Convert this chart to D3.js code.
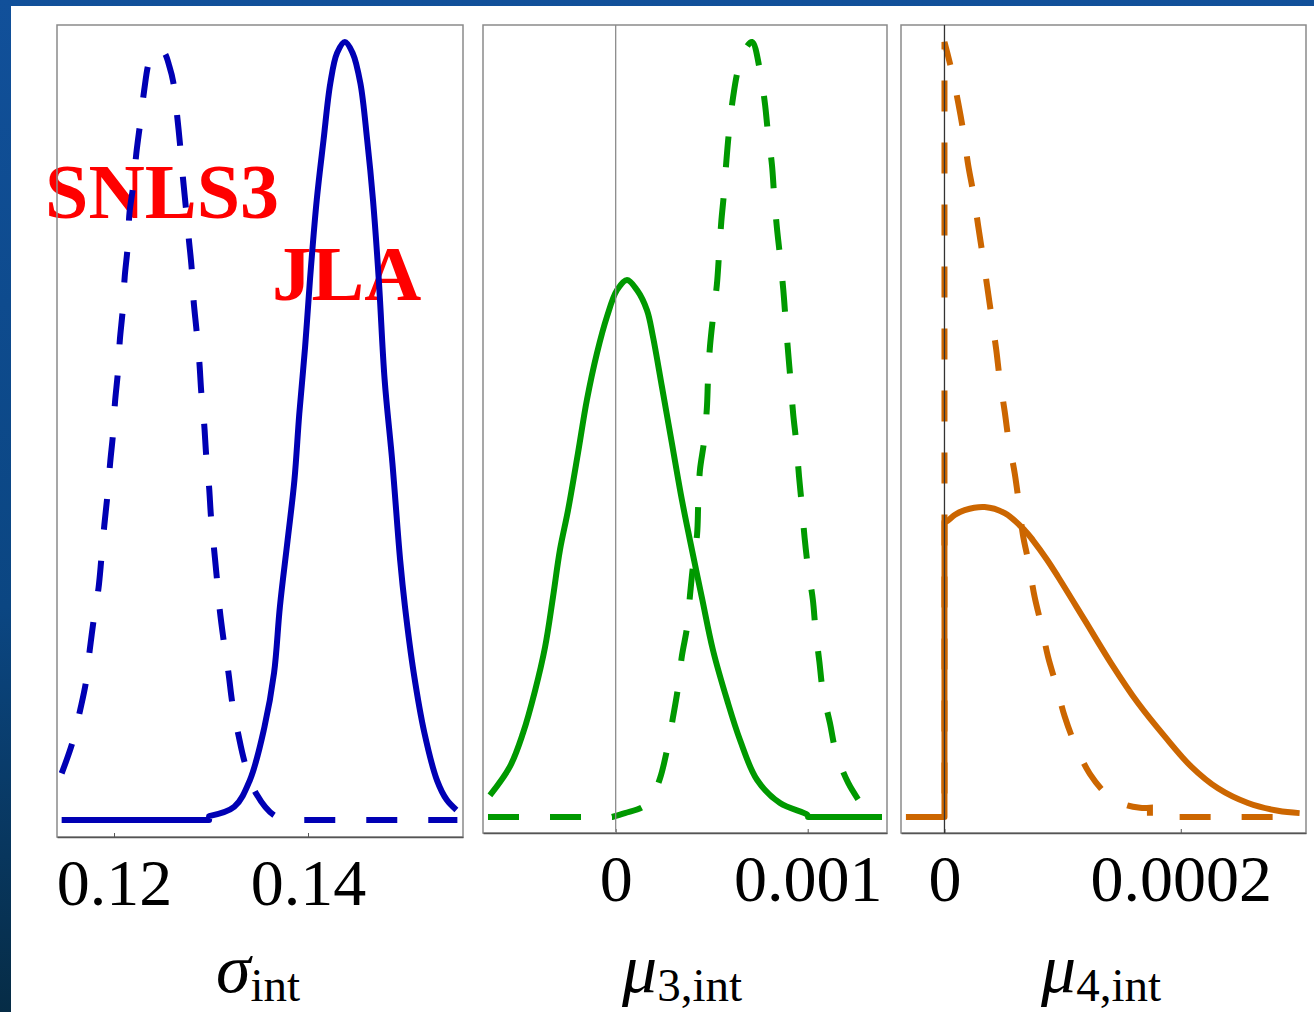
<!DOCTYPE html>
<html>
<head>
<meta charset="utf-8">
<script src="https://cdn.jsdelivr.net/npm/d3@7"></script>
<style>
body { margin: 0; background: #fff; }
text { font-family: "Liberation Serif", "Times New Roman", serif; }
</style>
</head>
<body>
<div id="chart"></div>
<script>
var width = 1314,
    height = 1012;

// marginal posteriors, [value, relative density]
var sigmaJLA = [[0.1146,0],[0.1298,0],[0.1298,0.005],[0.1324,0.017],[0.1340,0.051],[0.1355,0.119],[0.1365,0.189],
  [0.1371,0.274],[0.1379,0.360],[0.1386,0.437],[0.1391,0.522],[0.1397,0.608],[0.1402,0.694],[0.1409,0.797],
  [0.1416,0.874],[0.1423,0.947],[0.1430,0.986],[0.1438,1.0],[0.1446,0.986],[0.1454,0.947],[0.1461,0.874],
  [0.1467,0.797],[0.1473,0.694],[0.1479,0.566],[0.1487,0.459],[0.1495,0.334],[0.1500,0.274],[0.1509,0.189],
  [0.1520,0.112],[0.1533,0.051],[0.1543,0.026],[0.1553,0.013]];

var sigmaSNLS3 = [[0.1146,0.060],[0.1157,0.099],[0.1165,0.141],[0.1171,0.177],[0.1175,0.219],[0.1179,0.257],
  [0.1184,0.298],[0.1187,0.337],[0.1190,0.379],[0.1193,0.415],[0.1196,0.459],[0.1199,0.497],[0.1201,0.537],
  [0.1204,0.576],[0.1206,0.617],[0.1209,0.656],[0.1211,0.698],[0.1214,0.736],[0.1216,0.781],[0.1220,0.817],
  [0.1223,0.857],[0.1227,0.896],[0.1231,0.937],[0.1236,0.974],[0.1241,0.987],[0.1246,0.991],[0.1252,0.986],
  [0.1257,0.969],[0.1261,0.949],[0.1265,0.906],[0.1268,0.869],[0.1271,0.826],[0.1274,0.788],[0.1277,0.748],
  [0.1280,0.710],[0.1282,0.668],[0.1285,0.630],[0.1288,0.588],[0.1290,0.549],[0.1293,0.508],[0.1295,0.469],
  [0.1298,0.428],[0.1300,0.389],[0.1303,0.350],[0.1306,0.311],[0.1309,0.270],[0.1313,0.231],[0.1318,0.189],
  [0.1322,0.150],[0.1328,0.111],[0.1335,0.073],[0.1347,0.033],[0.1365,0.006],[0.1381,0],[0.1554,0]];

var mu3JLA = [[-0.000655,0.028],[-0.000551,0.065],[-0.000483,0.108],[-0.000420,0.163],[-0.000368,0.219],
  [-0.000327,0.283],[-0.000290,0.345],[-0.000248,0.396],[-0.000196,0.470],[-0.000150,0.538],[-0.000097,0.599],
  [-0.000045,0.646],[0.000007,0.680],[0.000059,0.693],[0.000111,0.680],[0.000163,0.654],[0.000194,0.620],
  [0.000241,0.555],[0.000293,0.482],[0.000345,0.409],[0.000387,0.357],[0.000449,0.283],[0.000507,0.215],
  [0.000580,0.151],[0.000648,0.099],[0.000736,0.048],[0.000856,0.018],[0.000997,0.003],[0.001002,0],[0.001387,0]];

var mu3SNLS3 = [[-0.000665,0],[-0.000019,0],[0.000048,0.005],[0.000142,0.013],[0.000189,0.025],[0.000231,0.050],
  [0.000267,0.086],[0.000298,0.128],[0.000324,0.166],[0.000345,0.208],[0.000371,0.244],[0.000387,0.286],
  [0.000403,0.325],[0.000424,0.365],[0.000430,0.405],[0.000439,0.448],[0.000460,0.484],[0.000475,0.528],
  [0.000481,0.566],[0.000491,0.607],[0.000507,0.645],[0.000527,0.687],[0.000538,0.725],[0.000550,0.768],
  [0.000564,0.805],[0.000577,0.848],[0.000590,0.884],[0.000611,0.928],[0.000637,0.964],[0.000673,0.990],
  [0.000710,1.0],[0.000751,0.964],[0.000777,0.921],[0.000793,0.883],[0.000814,0.841],[0.000825,0.803],
  [0.000839,0.762],[0.000856,0.723],[0.000873,0.680],[0.000885,0.641],[0.000898,0.600],[0.000911,0.562],
  [0.000924,0.521],[0.000941,0.482],[0.000955,0.439],[0.000969,0.403],[0.000984,0.360],[0.001001,0.323],
  [0.001027,0.280],[0.001041,0.241],[0.001061,0.200],[0.001079,0.162],[0.001116,0.121],[0.001147,0.084],
  [0.001211,0.044],[0.001289,0.013]];

var mu4JLA = [[-0.0000326,0],[0,0],[0,0.381],[0.0000015,0.381],[0.0000089,0.390],[0.0000171,0.396],
  [0.0000340,0.400],[0.0000510,0.392],[0.0000679,0.370],[0.0000749,0.357],[0.0000868,0.332],[0.0000961,0.310],
  [0.0001187,0.254],[0.0001412,0.198],[0.0001638,0.147],[0.0001864,0.104],[0.0002089,0.065],[0.0002315,0.037],
  [0.0002569,0.018],[0.0002823,0.008],[0.0003006,0.005]];

var mu4SNLS3 = [[-0.0000326,0],[0,0],[0,1.0],[0.0000061,0.963],[0.0000117,0.921],[0.0000159,0.885],
  [0.0000201,0.841],[0.0000244,0.805],[0.0000286,0.762],[0.0000323,0.725],[0.0000362,0.684],[0.0000396,0.648],
  [0.0000438,0.603],[0.0000467,0.566],[0.0000510,0.523],[0.0000543,0.486],[0.0000594,0.444],[0.0000628,0.407],
  [0.0000664,0.364],[0.0000707,0.332],[0.0000763,0.284],[0.0000819,0.248],[0.0000876,0.207],[0.0000946,0.170],
  [0.0001017,0.130],[0.0001102,0.095],[0.0001229,0.056],[0.0001384,0.028],[0.0001528,0.016],[0.0001655,0.012],
  [0.0001739,0.012],[0.0001739,0],[0.0002882,0]];

var sigmaTicks = [0.12, 0.14],
    sigmaTickLabels = ["0.12", "0.14"];
var mu3Ticks = [0, 0.001],
    mu3TickLabels = ["0", "0.001"];
var mu4Ticks = [0, 0.0002],
    mu4TickLabels = ["0", "0.0002"];

var panels = [
  { left: 57,  right: 463,  top: 25, bottom: 837, base: 820, domain: [0.11412, 0.15598],
    ticks: sigmaTicks, labels: sigmaTickLabels, solid: sigmaJLA, dashed: sigmaSNLS3,
    color: "#0000b4", zero: null, sym: "\u03c3", sub: "int", labelX: 258 },
  { left: 483, right: 887,  top: 25, bottom: 833, base: 817, domain: [-0.000691, 0.001413],
    ticks: mu3Ticks, labels: mu3TickLabels, solid: mu3JLA, dashed: mu3SNLS3,
    color: "#009900", zero: "#8c8c8c", sym: "\u03bc", sub: "3,int", labelX: 682 },
  { left: 901, right: 1306, top: 25, bottom: 833, base: 817, domain: [-0.0000368, 0.000306],
    ticks: mu4Ticks, labels: mu4TickLabels, solid: mu4JLA, dashed: mu4SNLS3,
    color: "#cc6600", zero: "#333", sym: "\u03bc", sub: "4,int", labelX: 1101 }
];

var svg = d3.select("#chart")
    .append("svg")
    .attr("width", width)
    .attr("height", height);

// slide background
var grad = svg.append("defs").append("linearGradient")
    .attr("id", "bg").attr("x1", 0).attr("y1", 0).attr("x2", 0).attr("y2", 1);
grad.append("stop").attr("offset", "0%").attr("stop-color", "#11509a");
grad.append("stop").attr("offset", "60%").attr("stop-color", "#0b4682");
grad.append("stop").attr("offset", "100%").attr("stop-color", "#062c46");

svg.append("rect").attr("width", width).attr("height", height).attr("fill", "url(#bg)");
svg.append("rect").attr("x", 11).attr("y", 6).attr("width", width - 11).attr("height", height - 6).attr("fill", "#fff");

// names of the two samples
svg.append("text")
    .attr("x", 45).attr("y", 218)
    .attr("font-size", 78).attr("font-weight", "bold").attr("fill", "#ff0000")
    .text("SNLS3");
svg.append("text")
    .attr("x", 272).attr("y", 300)
    .attr("font-size", 79).attr("font-weight", "bold").attr("fill", "#ff0000")
    .text("JLA");

// smooth where the density is smooth, straight on the flat and vertical pieces
function densityPath(data, x, y) {
  var smooth = d3.line().curve(d3.curveCatmullRom.alpha(0.5))
      .x(function(d) { return x(d[0]); })
      .y(function(d) { return y(d[1]); });
  var straight = d3.line()
      .x(function(d) { return x(d[0]); })
      .y(function(d) { return y(d[1]); });
  var parts = [], run = [data[0]];
  for (var i = 1; i < data.length; i++) {
    var a = data[i - 1], b = data[i];
    if (a[0] === b[0] || (a[1] === 0 && b[1] === 0)) {
      if (run.length > 1) parts.push(smooth(run));
      parts.push(straight([a, b]));
      run = [b];
    } else {
      run.push(b);
    }
  }
  if (run.length > 1) parts.push(smooth(run));
  return parts.map(function(s, i) { return i ? s.replace(/^M/, "L") : s; }).join("");
}

panels.forEach(function(p) {
  var x = d3.scaleLinear().domain(p.domain).range([p.left, p.right]);
  var y = d3.scaleLinear().domain([0, 1]).range([p.base, 42]);

  var g = svg.append("g");

  g.append("rect")
      .attr("x", p.left).attr("y", p.top)
      .attr("width", p.right - p.left).attr("height", p.bottom - p.top)
      .attr("fill", "none").attr("stroke", "#8a8a8a").attr("stroke-width", 1.5);

  var axis = d3.axisBottom(x)
      .tickValues(p.ticks)
      .tickFormat(function(d, i) { return p.labels[i]; })
      .tickSizeInner(-4)
      .tickSizeOuter(0)
      .tickPadding(21);

  g.append("g")
      .attr("transform", "translate(0," + p.bottom + ")")
      .call(axis)
      .call(function(a) {
        a.select(".domain").attr("stroke", "#555").attr("stroke-width", 1.5);
        a.selectAll(".tick line").attr("stroke", "#555");
        a.selectAll(".tick text").attr("font-size", 66).attr("fill", "#000");
      });

  g.append("path")
      .attr("d", densityPath(p.dashed, x, y))
      .attr("fill", "none")
      .attr("stroke", p.color)
      .attr("stroke-width", 6)
      .attr("stroke-dasharray", "31,31");

  g.append("path")
      .attr("d", densityPath(p.solid, x, y))
      .attr("fill", "none")
      .attr("stroke", p.color)
      .attr("stroke-width", 6)
      .attr("stroke-linejoin", "round");

  if (p.zero) {
    g.append("line")
        .attr("x1", x(0)).attr("x2", x(0))
        .attr("y1", p.top).attr("y2", p.bottom)
        .attr("stroke", p.zero).attr("stroke-width", 1.3);
  }

  var lab = g.append("text")
      .attr("x", p.labelX).attr("y", 992)
      .attr("text-anchor", "middle")
      .attr("fill", "#000");
  lab.append("tspan").attr("font-size", 70).attr("font-style", "italic").text(p.sym);
  lab.append("tspan").attr("font-size", 47).attr("dy", 9).text(p.sub);
});
</script>
</body>
</html>
